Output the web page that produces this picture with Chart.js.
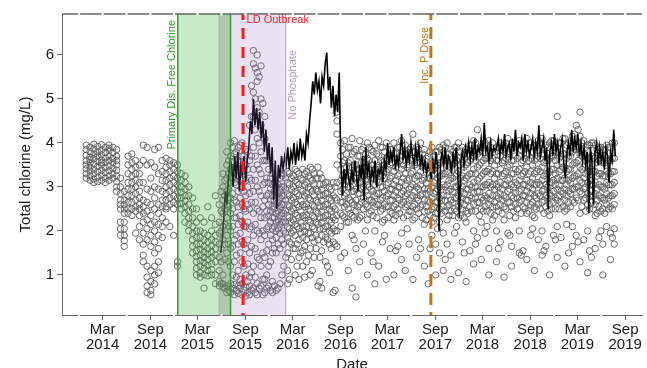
<!DOCTYPE html>
<html>
<head>
<meta charset="utf-8">
<script src="https://cdn.jsdelivr.net/npm/chart.js@4"></script>
<style>
  html, body { margin: 0; padding: 0; background: #fff; }
  #chart { display: block; }
</style>
</head>
<body>
<canvas id="chart" width="647" height="368"></canvas>
<script>
// Grab samples: sampling date (decimal year) and the readings (mg/L) taken that day
const sampleDates = [
  2013.99, 2014.03, 2014.07, 2014.11, 2014.15, 2014.19, 2014.23, 2014.27, 2014.31,
  2014.35, 2014.39, 2014.43, 2014.47, 2014.51, 2014.55, 2014.59, 2014.63, 2014.67, 2014.71, 2014.75, 2014.79,
  2014.83, 2014.87, 2014.91, 2014.95, 2014.99, 2015.03, 2015.07, 2015.11, 2015.15, 2015.19, 2015.23, 2015.27, 2015.31, 2015.35,
  2015.39, 2015.43, 2015.47, 2015.51, 2015.55, 2015.59, 2015.63, 2015.67, 2015.71, 2015.75, 2015.79, 2015.83, 2015.87, 2015.91, 2015.95, 2015.99, 2016.03, 2016.07,
  2016.11, 2016.15, 2016.19, 2016.23, 2016.27, 2016.31, 2016.35, 2016.39, 2016.43, 2016.47, 2016.51, 2016.55, 2016.59, 2016.63,
  2016.67, 2016.71, 2016.75, 2016.79, 2016.83, 2016.87, 2016.91, 2016.95, 2016.99, 2017.03, 2017.07, 2017.11, 2017.15, 2017.19,
  2017.23, 2017.27, 2017.31, 2017.35, 2017.39, 2017.43, 2017.47, 2017.51, 2017.55, 2017.59, 2017.63, 2017.67, 2017.71, 2017.75,
  2017.79, 2017.83, 2017.87, 2017.91, 2017.95, 2017.99, 2018.03, 2018.07, 2018.11, 2018.15, 2018.19, 2018.23, 2018.27, 2018.31,
  2018.35, 2018.39, 2018.43, 2018.47, 2018.51, 2018.55, 2018.59, 2018.63, 2018.67, 2018.71, 2018.75, 2018.79, 2018.83, 2018.87,
  2018.91, 2018.95, 2018.99, 2019.03, 2019.07, 2019.11, 2019.15, 2019.19, 2019.23, 2019.27, 2019.31, 2019.35, 2019.39, 2019.43,
  2019.47, 2019.51, 2019.55,
  // in-between sampling days
  2015.41, 2015.45, 2015.49, 2015.53, 2015.57, 2015.61, 2015.65, 2015.69, 2015.73, 2015.77, 2015.81, 2015.85, 2015.89,
  2015.93, 2015.97, 2016.01, 2016.05, 2016.09, 2016.13, 2016.17, 2016.21, 2016.25, 2016.29, 2016.33, 2016.37, 2016.41,
  2016.45, 2016.49, 2016.53, 2016.57, 2016.61,
  2016.69, 2016.73, 2016.77, 2016.81, 2016.85, 2016.89, 2016.93, 2016.97, 2017.01, 2017.05, 2017.09, 2017.13, 2017.17,
  2017.21, 2017.25, 2017.29, 2017.33, 2017.37, 2017.41, 2017.45, 2017.49, 2017.53, 2017.57, 2017.61, 2017.65, 2017.69,
  2017.73, 2017.77, 2017.81, 2017.85, 2017.89, 2017.93, 2017.97, 2018.01, 2018.05, 2018.09, 2018.13, 2018.17, 2018.21,
  2018.25, 2018.29, 2018.33, 2018.37, 2018.41, 2018.45, 2018.49, 2018.53, 2018.57, 2018.61, 2018.65, 2018.69, 2018.73,
  2018.77, 2018.81, 2018.85, 2018.89, 2018.93, 2018.97, 2019.01, 2019.05, 2019.09, 2019.13, 2019.17, 2019.21, 2019.25,
  2019.29, 2019.33, 2019.37, 2019.41, 2019.45, 2019.49, 2019.53
];
const sampleValues = [
  [3.95,3.85,3.72,3.6,3.5,3.41,3.3,3.2],
  [3.9,3.8,3.68,3.55,3.45,3.36,3.25,3.15,3.62],
  [3.97,3.86,3.75,3.64,3.52,3.4,3.3,3.18,3.1],
  [3.92,3.8,3.7,3.58,3.47,3.35,3.22,3.12],
  [3.96,3.84,3.73,3.61,3.5,3.38,3.27,3.15,3.55],
  [3.9,3.78,3.66,3.56,3.44,3.33,3.2,3.1],
  [3.95,3.83,3.7,3.6,3.48,3.37,3.25,3.15,3.88],
  [3.9,3.78,3.65,3.55,3.42,3.3,3.2,3.65],
  [3.85,3.7,3.6,3.5,3.38,3.25,3.12,3.0,2.9],
  [3.2,3.0,2.85,2.7,2.6,2.5,2.2,2.05,1.9],
  [2.9,2.7,2.6,2.5,2.4,2.2,2.05,1.9,1.78,1.65],
  [3.7,3.5,3.3,3.1,2.95,2.8,2.65,2.5,2.4],
  [3.75,3.55,3.4,3.25,3.1,2.95,2.8,2.65,2.5,2.35],
  [3.6,3.45,3.3,3.15,3.0,2.85,2.7,2.55,2.45,1.95],
  [3.5,3.3,3.1,2.9,2.75,2.6,2.5,2.35,2.1,1.8],
  [3.95,3.6,3.1,2.7,2.55,2.4,2.2,1.95,1.7,1.45,1.3],
  [3.9,3.5,2.95,2.65,2.45,2.25,2.05,1.8,1.2,0.95,0.75,0.6],
  [3.55,3.2,2.9,2.6,2.35,2.15,1.9,1.65,1.1,0.85,0.65,0.55],
  [3.85,3.45,3.0,2.75,2.5,2.2,2.0,1.75,1.5,1.2,1.0,0.8],
  [3.9,3.3,2.95,2.6,2.4,2.15,1.9,1.6,1.3,1.05],
  [3.6,3.35,3.15,2.9,2.7,2.55,2.3,2.1,1.85],
  [3.65,3.45,3.3,3.15,3.0,2.85,2.7,2.55,2.2,2.5],
  [3.6,3.5,3.35,3.2,3.05,2.9,2.75,2.6,2.1],
  [3.55,3.4,3.25,3.1,2.95,2.8,2.65,2.5,1.9],
  [3.5,3.35,3.2,3.05,2.9,2.75,2.6,1.3,1.2],
  [3.3,3.15,3.0,2.88,2.75,2.62,2.5],
  [3.25,3.1,2.95,2.8,2.68,2.55,2.4,2.2],
  [3.0,2.8,2.6,2.45,2.3,2.15,2.0],
  [2.75,2.5,2.3,2.1,1.95,1.8,1.65,1.5],
  [2.5,2.2,2.0,1.85,1.7,1.55,1.42,1.3,1.15,1.0],
  [2.3,2.0,1.85,1.7,1.58,1.45,1.32,1.2,1.05,0.95],
  [2.2,1.95,1.8,1.65,1.52,1.4,1.28,1.15,1.0,0.7],
  [2.55,1.9,1.75,1.6,1.48,1.35,1.22,1.1,0.98],
  [2.3,2.0,1.8,1.66,1.52,1.4,1.25,1.12,1.0],
  [2.8,2.15,1.9,1.75,1.6,1.45,1.3,1.0,0.8],
  [2.6,2.2,1.95,1.7,1.4,1.1,0.85,0.75],
  [3.3,3.0,2.7,2.4,2.1,1.8,1.0,0.8,0.72],
  [3.8,3.5,3.2,2.9,2.6,2.3,1.9,1.5,0.75,0.6],
  [4.0,3.7,3.4,3.1,2.75,2.4,2.0,1.6,1.2,0.8,0.6],
  [4.05,3.75,3.45,3.1,2.7,2.3,1.8,1.3,0.78,0.55],
  [3.9,3.6,3.25,2.9,2.55,2.15,1.7,1.1,0.75,0.58],
  [4.0,3.7,3.35,3.0,2.6,2.2,1.75,1.3,0.8,0.55],
  [3.85,3.5,3.15,2.8,2.45,2.1,1.6,1.0,0.72,0.52],
  [4.4,3.6,3.2,2.85,2.5,2.05,1.5,0.95,0.75,0.55],
  [6.1,5.8,5.15,4.6,3.9,3.4,2.9,2.4,1.9,1.2,0.7],
  [6.0,5.6,5.4,4.8,4.1,3.5,3.0,2.5,2.0,1.4,0.8,0.55],
  [5.75,5.0,4.4,3.8,3.3,2.8,2.3,1.8,1.2,0.75],
  [4.6,4.1,3.6,3.1,2.7,2.3,1.9,1.4,0.9,0.6],
  [3.4,3.1,2.85,2.6,2.35,2.1,1.7,1.2,0.75],
  [3.3,3.05,2.8,2.55,2.3,2.05,1.8,1.5,0.85,0.6],
  [3.0,2.8,2.6,2.4,2.2,2.0,1.85,1.5,0.65],
  [3.2,2.95,2.75,2.55,2.35,2.15,1.95,1.6,0.8],
  [3.3,3.0,2.8,2.6,2.4,2.2,2.0,1.7,1.2],
  [3.35,3.1,2.85,2.6,2.35,2.1,1.85,1.5,1.1,0.8],
  [3.2,2.95,2.7,2.45,2.2,1.95,1.7,1.35],
  [3.4,3.15,2.9,2.65,2.4,2.15,1.9,1.6,1.0],
  [3.3,3.05,2.8,2.55,2.3,2.05,1.8,1.4,0.9],
  [3.4,3.15,2.9,2.6,2.35,2.1,1.85,1.55,1.2],
  [3.35,3.1,2.85,2.6,2.35,2.1,1.8,1.3],
  [3.45,3.2,2.95,2.7,2.45,2.2,1.95,1.6,1.0],
  [3.3,3.05,2.8,2.55,2.3,2.05,1.75,1.4],
  [3.45,3.2,2.9,2.65,2.4,2.15,1.8,0.75],
  [3.2,2.95,2.7,2.45,2.2,1.9,1.55,0.7],
  [3.1,2.85,2.6,2.35,2.1,1.85,1.3],
  [3.0,2.75,2.5,2.25,2.0,1.7,1.05],
  [3.1,2.8,2.55,2.3,2.05,1.75,0.6],
  [4.7,4.5,4.2,3.5,3.1,2.7,2.35,2.0,1.65],
  [4.0,3.7,3.4,3.15,2.9,2.65,2.4,2.1,1.4],
  [4.05,3.6,3.3,3.05,2.8,2.55,2.3,1.5],
  [3.9,3.55,3.25,3.0,2.75,2.5,2.2,1.1],
  [4.1,3.75,3.45,3.15,2.9,2.65,2.35,1.9,0.7],
  [3.85,3.5,3.2,2.95,2.7,2.45,1.6,0.5],
  [4.05,3.7,3.4,3.1,2.85,2.6,2.3,1.3],
  [3.9,3.55,3.25,3.0,2.75,2.5,1.7],
  [4.0,3.65,3.35,3.05,2.8,2.55,2.25,1.0],
  [3.85,3.5,3.2,2.95,2.7,2.45,1.5],
  [3.95,3.6,3.3,3.05,2.8,2.55,2.0,0.8],
  [4.05,3.7,3.4,3.1,2.85,2.6,1.2],
  [3.9,3.55,3.25,3.0,2.75,2.5,2.2,1.75],
  [4.0,3.65,3.35,3.05,2.8,2.55,0.9],
  [3.85,3.5,3.2,2.95,2.7,2.45,1.6],
  [4.0,3.65,3.35,3.05,2.8,2.55,2.25,1.0],
  [3.9,3.55,3.25,3.0,2.75,2.5,1.65],
  [4.05,3.7,3.4,3.1,2.85,2.6,1.95,1.35],
  [3.95,3.6,3.3,3.05,2.8,2.55,1.1],
  [3.85,3.5,3.2,2.95,2.7,2.45,1.7],
  [4.2,3.65,3.35,3.05,2.8,2.55,2.25,0.9],
  [3.9,3.55,3.25,3.0,2.75,2.5,1.4],
  [4.0,3.65,3.35,3.05,2.8,2.55,1.6],
  [3.85,3.5,3.2,2.95,2.7,2.45,2.15,1.2],
  [3.7,3.45,3.2,2.95,2.7,2.45,0.8],
  [3.9,3.55,3.25,3.0,2.75,2.5,2.2,1.9],
  [3.8,3.45,3.15,2.9,2.65,2.4,1.7,1.0],
  [3.9,3.55,3.25,3.0,2.75,2.5,2.2,1.5],
  [3.95,3.6,3.3,3.05,2.8,2.55,1.95,1.1],
  [4.0,3.65,3.35,3.05,2.8,2.55,2.25,1.7],
  [3.85,3.5,3.2,2.95,2.7,2.45,1.45,0.9],
  [3.9,3.55,3.25,3.0,2.75,2.5,1.95],
  [4.0,3.65,3.35,3.05,2.8,2.55,2.3,1.05],
  [3.9,3.55,3.25,3.0,2.75,2.5,1.75],
  [3.85,3.5,3.2,2.95,2.7,2.45,2.2,0.85],
  [3.95,3.6,3.3,3.05,2.8,2.55,1.55],
  [4.05,3.7,3.4,3.1,2.85,2.6,2.0,1.25],
  [4.3,3.75,3.45,3.15,2.9,2.65,1.85],
  [3.9,3.55,3.25,3.0,2.75,2.5,2.2,1.35],
  [4.0,3.65,3.35,3.05,2.8,2.55,1.95],
  [4.05,3.7,3.4,3.1,2.85,2.6,1.6,1.0],
  [4.0,3.65,3.35,3.05,2.8,2.55,2.25],
  [3.9,3.6,3.3,3.05,2.8,2.55,2.0,1.3],
  [4.0,3.7,3.4,3.1,2.85,2.6,1.75],
  [3.95,3.6,3.3,3.05,2.8,2.55,2.25,0.95],
  [4.1,3.75,3.45,3.15,2.9,2.65,1.95],
  [3.9,3.6,3.3,3.05,2.8,2.55,1.65,1.2],
  [4.0,3.7,3.4,3.1,2.85,2.6,2.3],
  [4.05,3.7,3.4,3.15,2.9,2.65,2.0,1.5],
  [3.95,3.6,3.3,3.05,2.8,2.55,1.55],
  [4.1,3.75,3.45,3.15,2.9,2.65,2.4,1.35],
  [4.0,3.65,3.35,3.1,2.85,2.6,1.9],
  [3.9,3.6,3.3,3.05,2.8,2.55,2.3,1.1],
  [4.05,3.7,3.4,3.1,2.85,2.6,1.8],
  [4.1,3.75,3.45,3.15,2.9,2.65,2.0,1.45],
  [3.95,3.6,3.3,3.05,2.8,2.55,1.65],
  [4.0,3.65,3.35,3.1,2.85,2.6,2.35,1.0],
  [4.05,3.7,3.4,3.15,2.9,2.65,1.9],
  [4.6,3.8,3.5,3.2,2.95,2.7,2.1,1.4],
  [4.0,3.7,3.4,3.15,2.9,2.65,1.85],
  [4.1,3.75,3.45,3.2,2.95,2.7,2.45,1.2],
  [4.0,3.7,3.4,3.15,2.9,2.65,1.5],
  [4.15,3.8,3.5,3.2,2.95,2.7,2.1,1.65],
  [4.4,3.85,3.55,3.25,3.0,2.75,1.9],
  [4.7,4.15,3.75,3.45,3.15,2.9,2.4,1.3],
  [4.05,3.75,3.45,3.2,2.95,2.7,1.8],
  [3.95,3.65,3.35,3.1,2.85,2.6,2.0,1.05],
  [4.0,3.7,3.4,3.15,2.9,2.65,1.4],
  [3.95,3.65,3.35,3.1,2.85,2.6,2.35,1.6],
  [3.9,3.6,3.3,3.05,2.8,2.55,1.85],
  [3.85,3.55,3.25,3.0,2.75,2.5,1.7,1.0],
  [3.95,3.65,3.35,3.1,2.85,2.6,2.1],
  [3.9,3.6,3.3,3.05,2.8,2.55,1.95,1.35],
  [4.0,3.65,3.35,3.1,2.85,2.6,2.05,1.7],
  // in-between sampling days
  [2.9,2.45,2.0,1.6,1.3,0.8],
  [3.15,2.8,2.5,2.15,1.7,1.35,0.7],
  [3.6,3.3,2.95,2.55,2.1,1.7,1.3,0.65],
  [3.9,3.55,3.2,2.85,2.5,2.1,1.65,1.0,0.7],
  [3.8,3.45,3.05,2.65,2.3,1.9,1.45,0.95,0.65],
  [3.95,3.55,3.15,2.75,2.35,1.95,1.5,0.9,0.7],
  [3.7,3.3,2.9,2.5,2.1,1.7,1.2,0.65],
  [3.8,3.4,3.0,2.6,2.2,1.8,1.25,0.85,0.6],
  [5.3,4.6,3.7,3.15,2.65,2.1,1.65,1.05,0.65],
  [5.7,5.0,4.3,3.7,3.15,2.65,2.15,1.6,0.95,0.6],
  [5.5,4.7,4.0,3.4,2.9,2.45,1.95,1.35,0.7],
  [4.9,4.25,3.6,3.05,2.55,2.0,1.5,0.9,0.55],
  [3.6,3.2,2.8,2.45,2.05,1.55,1.0,0.7],
  [3.2,2.95,2.7,2.45,2.2,1.9,1.3,0.65],
  [3.1,2.9,2.7,2.5,2.3,2.1,1.6,0.75],
  [3.05,2.85,2.65,2.45,2.25,2.05,1.7,0.7],
  [3.25,3.0,2.8,2.6,2.4,2.2,1.8,1.0],
  [3.2,2.95,2.7,2.45,2.2,1.95,1.4],
  [3.3,3.05,2.8,2.55,2.3,2.05,1.75,0.9],
  [3.25,3.0,2.75,2.5,2.25,2.0,1.6],
  [3.35,3.1,2.85,2.6,2.35,2.1,1.7,1.2],
  [3.2,2.95,2.7,2.45,2.2,1.95,1.5],
  [3.3,3.05,2.8,2.55,2.3,2.0,1.65,0.95],
  [3.25,3.0,2.75,2.5,2.25,1.95,1.45],
  [3.4,3.15,2.9,2.6,2.35,2.1,1.85,1.1],
  [3.2,2.95,2.7,2.45,2.2,1.9,1.6],
  [3.3,3.05,2.8,2.55,2.3,2.05,1.4,0.85],
  [3.05,2.8,2.55,2.3,2.05,1.75],
  [3.1,2.85,2.6,2.35,2.1,1.8,1.2],
  [2.95,2.7,2.45,2.2,1.95,1.6],
  [3.0,2.75,2.5,2.25,2.0,1.7,0.65],
  [3.85,3.55,3.25,2.95,2.65,2.35],
  [3.75,3.45,3.15,2.85,2.6,2.2],
  [3.9,3.6,3.3,3.0,2.7,2.4],
  [3.8,3.5,3.2,2.9,2.6,2.3,1.8],
  [3.7,3.4,3.1,2.85,2.55,2.25],
  [3.85,3.55,3.25,2.95,2.65,2.35],
  [3.75,3.45,3.15,2.9,2.6,2.0],
  [3.9,3.6,3.3,3.0,2.7,2.4],
  [3.8,3.5,3.2,2.9,2.65,2.35,1.3],
  [3.75,3.45,3.15,2.85,2.6,2.3],
  [3.9,3.6,3.3,3.0,2.7,2.45],
  [3.8,3.5,3.2,2.9,2.6,2.25,1.9],
  [3.7,3.4,3.1,2.85,2.55,2.3],
  [3.85,3.55,3.25,2.95,2.7,2.4],
  [3.75,3.45,3.15,2.9,2.6,2.35,1.55],
  [3.9,3.6,3.3,3.0,2.7,2.4],
  [3.8,3.5,3.2,2.9,2.65,2.3],
  [3.75,3.45,3.15,2.85,2.6,2.35,2.05],
  [3.9,3.6,3.3,3.0,2.75,2.45],
  [3.8,3.5,3.2,2.9,2.6,2.3],
  [3.85,3.55,3.25,2.95,2.7,2.4,1.8],
  [3.75,3.45,3.15,2.85,2.6,2.3],
  [3.65,3.4,3.1,2.85,2.55,2.25],
  [3.8,3.5,3.2,2.9,2.65,2.35,1.6],
  [3.7,3.4,3.1,2.85,2.55,2.3],
  [3.8,3.5,3.2,2.95,2.65,2.4,2.05],
  [3.85,3.55,3.25,2.95,2.7,2.4],
  [3.9,3.6,3.3,3.0,2.7,2.45,1.35],
  [3.75,3.45,3.15,2.9,2.6,2.35],
  [3.8,3.5,3.2,2.9,2.65,2.35],
  [3.9,3.6,3.3,3.0,2.75,2.45,2.1],
  [3.8,3.5,3.2,2.9,2.65,2.35],
  [3.75,3.45,3.15,2.85,2.6,2.3,1.5],
  [3.85,3.55,3.25,2.95,2.7,2.4],
  [3.95,3.65,3.3,3.0,2.75,2.45],
  [4.0,3.6,3.3,3.0,2.75,2.45,1.7],
  [3.8,3.5,3.2,2.9,2.65,2.35],
  [3.9,3.6,3.3,3.0,2.7,2.45],
  [3.95,3.65,3.35,3.05,2.75,2.45,2.1],
  [3.9,3.6,3.3,3.0,2.7,2.4],
  [3.8,3.5,3.2,2.95,2.65,2.35],
  [3.9,3.6,3.3,3.0,2.75,2.45,1.6],
  [3.85,3.55,3.25,2.95,2.7,2.4],
  [4.0,3.65,3.35,3.05,2.75,2.5],
  [3.8,3.5,3.2,2.95,2.65,2.35,1.9],
  [3.9,3.6,3.3,3.0,2.75,2.45],
  [3.95,3.65,3.35,3.05,2.75,2.5],
  [3.85,3.55,3.25,2.95,2.7,2.4,1.45],
  [4.0,3.65,3.35,3.05,2.8,2.5],
  [3.9,3.6,3.3,3.0,2.75,2.45],
  [3.8,3.5,3.2,2.95,2.65,2.35,2.05],
  [3.95,3.65,3.35,3.05,2.75,2.5],
  [4.0,3.65,3.35,3.05,2.8,2.5],
  [3.85,3.55,3.25,2.95,2.7,2.4,1.55],
  [3.9,3.6,3.3,3.0,2.75,2.45],
  [4.05,3.7,3.4,3.1,2.8,2.5],
  [3.9,3.6,3.3,3.05,2.75,2.5,1.8],
  [4.0,3.65,3.35,3.05,2.8,2.5],
  [4.1,3.75,3.45,3.15,2.85,2.55],
  [3.95,3.65,3.35,3.05,2.8,2.5,2.15],
  [4.05,3.7,3.4,3.1,2.85,2.55],
  [4.2,3.85,3.55,3.25,2.95,2.65],
  [4.3,3.9,3.6,3.3,3.0,2.7,1.75],
  [4.0,3.7,3.4,3.1,2.85,2.55],
  [3.9,3.6,3.3,3.0,2.75,2.45],
  [3.95,3.65,3.35,3.05,2.8,2.5,1.55],
  [4.0,3.65,3.35,3.05,2.8,2.5],
  [3.85,3.55,3.25,2.95,2.7,2.4],
  [3.9,3.6,3.3,3.0,2.75,2.45,2.0],
  [3.85,3.55,3.25,2.95,2.7,2.4],
  [3.9,3.6,3.3,3.05,2.75,2.5],
  [4.0,3.65,3.35,3.05,2.8,2.5,1.85]
];

// Online analyser: first reading date, spacing, readings (mg/L)
const sensorStart = '2015-05-29';
const sensorStepDays = 6;
const sensorValues = [
  1.5, 1.8, 2.3, 2.9, 2.6, 3.2, 3.6,
  3.5, 3.0, 3.7, 3.2, 3.8, 2.9, 3.5, 3.3, 3.7, 3.1, 3.6,
  3.9, 4.5, 4.2, 5.0, 4.4, 4.8, 4.3, 4.7,
  4.1, 4.5, 3.8, 4.3, 3.6, 4.0, 3.3, 3.9, 2.7, 3.6, 2.5, 3.5, 3.2, 3.7, 3.4,
  3.7, 3.5, 3.9, 3.4, 3.8, 3.6, 4.0, 3.5, 3.9, 3.6, 4.1, 3.7, 3.9, 3.6, 4.2, 4.0,
  4.5, 4.9, 5.4, 5.1, 5.6, 5.2, 5.4, 4.9, 5.5, 5.3, 5.8, 6.05, 5.2, 5.5, 4.8, 5.3, 4.6, 5.1, 4.7, 5.6,
  3.6, 2.8, 3.4, 3.1, 3.5, 3.2, 3.0, 3.4, 3.1, 3.6, 3.3, 2.9, 3.5, 3.2, 3.7, 2.7, 3.9, 3.3, 3.5, 3.1,
  3.4, 3.2, 3.6, 3.0, 3.4, 3.3, 3.5, 3.1, 3.6, 3.4,
  4.0, 3.5, 3.8, 3.6, 3.9, 3.4, 3.7, 3.5, 3.8, 4.2, 3.6, 3.9, 3.5, 3.8, 3.6, 4.0, 3.7, 3.5, 3.9,
  3.6, 3.9, 3.5, 3.7, 3.4, 3.6, 3.3, 3.5, 3.4, 3.2, 3.6, 3.3, 3.8, 3.5, 2.0, 3.6,
  3.8, 3.5, 3.9, 3.4, 3.7, 3.6, 3.3, 3.8, 3.5, 3.9, 3.4, 2.3, 3.6, 3.8, 3.5, 3.9, 3.7, 4.0, 3.6, 3.9,
  3.7, 4.1, 3.6, 3.9, 3.8, 4.1, 3.7, 4.45, 3.8, 3.9, 3.6, 4.0, 3.7, 3.9, 3.8,
  3.9, 4.1, 3.7, 4.0, 3.8, 4.2, 3.7, 3.9, 4.0, 3.6, 4.1, 3.8, 4.3, 3.7, 4.0, 3.9, 4.1, 3.6, 4.2, 3.8, 4.0, 3.7,
  3.9, 4.1, 3.7, 4.0, 3.8, 4.4, 3.7, 3.9, 4.1, 3.6, 3.9, 2.5, 3.8, 4.0, 3.7, 4.2, 3.8, 4.0, 3.6, 3.9,
  4.1, 3.5, 3.2, 3.8, 4.0, 3.7, 4.3, 3.8, 4.1, 3.9, 4.2, 3.7, 4.0, 3.6, 3.9, 3.5, 3.8, 2.4, 3.9, 3.6,
  2.6, 3.8, 4.0, 3.5, 3.9, 3.6, 3.8, 3.4, 3.9, 3.7, 3.1, 3.8, 3.6, 4.3, 3.7
];

// Axis range and ticks
const axisStart = '2013-09-26';
const axisEnd = '2019-11-05';
const xTickDates = ['2014-03-01', '2014-09-01', '2015-03-01', '2015-09-01', '2016-03-01', '2016-09-01',
                    '2017-03-01', '2017-09-01', '2018-03-01', '2018-09-01', '2019-03-01', '2019-09-01'];
const xTickLabels = [['Mar', '2014'], ['Sep', '2014'], ['Mar', '2015'], ['Sep', '2015'], ['Mar', '2016'], ['Sep', '2016'],
                     ['Mar', '2017'], ['Sep', '2017'], ['Mar', '2018'], ['Sep', '2018'], ['Mar', '2019'], ['Sep', '2019']];
const xMinorDates = ['2013-12-01', '2014-06-01', '2014-12-01', '2015-06-01', '2015-12-01', '2016-06-01',
                     '2016-12-01', '2017-06-01', '2017-12-01', '2018-06-01', '2018-12-01', '2019-06-01'];
const yTickValues = [1, 2, 3, 4, 5, 6];
const yMin = 0.09;
const yMax = 6.93;

// Events
const freeChlorineStart = '2014-12-15';
const freeChlorineEnd = '2015-07-06';
const greyStart = '2015-05-23';
const outbreakDate = '2015-08-23';
const phosphateEnd = '2016-02-03';
const pDoseDate = '2017-08-15';

// date string -> decimal year
const toYear = d => {
    const [y, m, day] = d.split('-').map(Number);
    const start = Date.UTC(y, 0, 1);
    const end = Date.UTC(y + 1, 0, 1);
    return y + (Date.UTC(y, m - 1, day) - start) / (end - start);
};

const grabPoints = sampleDates.flatMap((d, i) => sampleValues[i].map(v => ({ x: d, y: v })));
const sensorPoints = sensorValues.map((v, i) => ({ x: toYear(sensorStart) + i * sensorStepDays / 365.25, y: v }));

const FONT = '"Liberation Sans", Arial, sans-serif';
Chart.defaults.font.family = FONT;

// Shaded periods, event lines and their labels, drawn over the data
const annotations = {
    id: 'annotations',
    afterDatasetsDraw(chart) {
        const { ctx, chartArea: a, scales: { x } } = chart;
        const px = d => x.getPixelForValue(toYear(d));
        const h = a.bottom - a.top;
        const g0 = px(freeChlorineStart), g1 = px(freeChlorineEnd), gr = px(greyStart);
        const p1 = px(phosphateEnd), ld = px(outbreakDate), pd = px(pDoseDate);

        ctx.save();
        ctx.fillStyle = 'rgba(60,180,60,0.28)';
        ctx.fillRect(g0, a.top, g1 - g0, h);
        ctx.fillStyle = 'rgba(120,120,120,0.3)';
        ctx.fillRect(gr, a.top, g1 - gr, h);
        ctx.fillStyle = 'rgba(150,110,190,0.2)';
        ctx.fillRect(g1, a.top, p1 - g1, h);

        const vline = (xp, color, width, dash, offset) => {
            ctx.save();
            ctx.strokeStyle = color;
            ctx.lineWidth = width;
            ctx.setLineDash(dash || []);
            ctx.lineDashOffset = offset || 0;
            ctx.beginPath();
            ctx.moveTo(xp, a.top);
            ctx.lineTo(xp, a.bottom);
            ctx.stroke();
            ctx.restore();
        };
        vline(p1, 'rgba(175,140,210,0.9)', 1);
        vline(gr, 'rgba(150,150,150,0.6)', 1);
        vline(g0, '#2ca02c', 1.5);
        vline(g1, '#2ca02c', 1.5);
        vline(ld, '#ff1a1a', 3, [11, 8], 5);
        vline(pd, '#c8741e', 3, [12, 7], 6);

        ctx.font = '11px ' + FONT;
        const vtext = (str, xp, yTop, color) => {
            ctx.save();
            ctx.translate(xp, yTop);
            ctx.rotate(-Math.PI / 2);
            ctx.textAlign = 'right';
            ctx.textBaseline = 'middle';
            ctx.fillStyle = color;
            ctx.fillText(str, 0, 0);
            ctx.restore();
        };
        vtext('Primary Dis. Free Chlorine', g0 - 6, a.top + 6, '#2ca02c');
        vtext('No Phosphate', p1 + 7, a.top + 36, '#b39ad2');
        vtext('Inc. P Dose', pd - 5.5, a.top + 13, '#c8741e');

        ctx.fillStyle = '#ff1a1a';
        ctx.textAlign = 'left';
        ctx.textBaseline = 'middle';
        ctx.fillText('LD Outbreak', ld + 3.5, a.top + 6);
        ctx.restore();
    },
    afterDraw(chart) {
        // top frame line plus the small breaks seen along the frame
        const { ctx, chartArea: a, scales: { x } } = chart;
        const px = d => x.getPixelForValue(toYear(d));
        ctx.save();
        ctx.strokeStyle = '#666';
        ctx.lineWidth = 1.3;
        ctx.beginPath();
        ctx.moveTo(a.left, a.top);
        ctx.lineTo(a.right, a.top);
        ctx.stroke();
        ctx.fillStyle = '#fff';
        xTickDates.concat(xMinorDates).forEach(d => ctx.fillRect(px(d) - 1, a.top - 1.5, 2, 3));
        xMinorDates.forEach(d => ctx.fillRect(px(d) - 1, a.bottom - 1, 2, 2.5));
        ctx.restore();
    }
};

new Chart(document.getElementById('chart'), {
    type: 'scatter',
    data: {
        datasets: [
            {
                label: 'Sensor',
                data: sensorPoints,
                showLine: true,
                borderColor: '#000',
                borderWidth: 1.6,
                pointRadius: 0,
                order: 0
            },
            {
                label: 'Grab samples',
                data: grabPoints,
                pointRadius: 3.2,
                borderWidth: 0.9,
                borderColor: '#5c5c5c',
                backgroundColor: 'rgba(0,0,0,0)',
                order: 1
            }
        ]
    },
    options: {
        responsive: false,
        animation: false,
        events: [],
        layout: { padding: { top: 14, left: 0, right: 0, bottom: 0 } },
        plugins: { legend: { display: false }, tooltip: { enabled: false } },
        scales: {
            x: {
                type: 'linear',
                min: toYear(axisStart),
                max: toYear(axisEnd),
                afterBuildTicks: s => { s.ticks = xTickDates.map(d => ({ value: toYear(d) })); },
                afterFit: s => { s.height = 53; s.paddingLeft = 0; s.paddingRight = 0; },
                grid: { display: true, drawOnChartArea: false, tickLength: 5, color: '#666' },
                border: { display: true, color: '#666', width: 1 },
                ticks: {
                    autoSkip: false, maxRotation: 0, minRotation: 0, padding: 2,
                    color: '#1a1a1a', font: { size: 15, lineHeight: 1 },
                    callback: (v, i) => xTickLabels[i]
                },
                title: { display: true, text: 'Date', color: '#1a1a1a', font: { size: 15 }, padding: { top: 0, bottom: -6 } }
            },
            y: {
                min: yMin,
                max: yMax,
                afterBuildTicks: s => { s.ticks = yTickValues.map(v => ({ value: v })); },
                afterFit: s => { s.width = 62; s.paddingTop = 0; s.paddingBottom = 0; },
                grid: { display: true, drawOnChartArea: false, tickLength: 5, color: '#666' },
                border: { display: true, color: '#666', width: 1 },
                ticks: { padding: 3, color: '#1a1a1a', font: { size: 15 }, callback: v => String(v) },
                title: { display: true, text: 'Total chlorine (mg/L)', color: '#1a1a1a', font: { size: 15 }, padding: { top: 17, bottom: 0 } }
            }
        }
    },
    plugins: [annotations]
});
</script>
</body>
</html>
